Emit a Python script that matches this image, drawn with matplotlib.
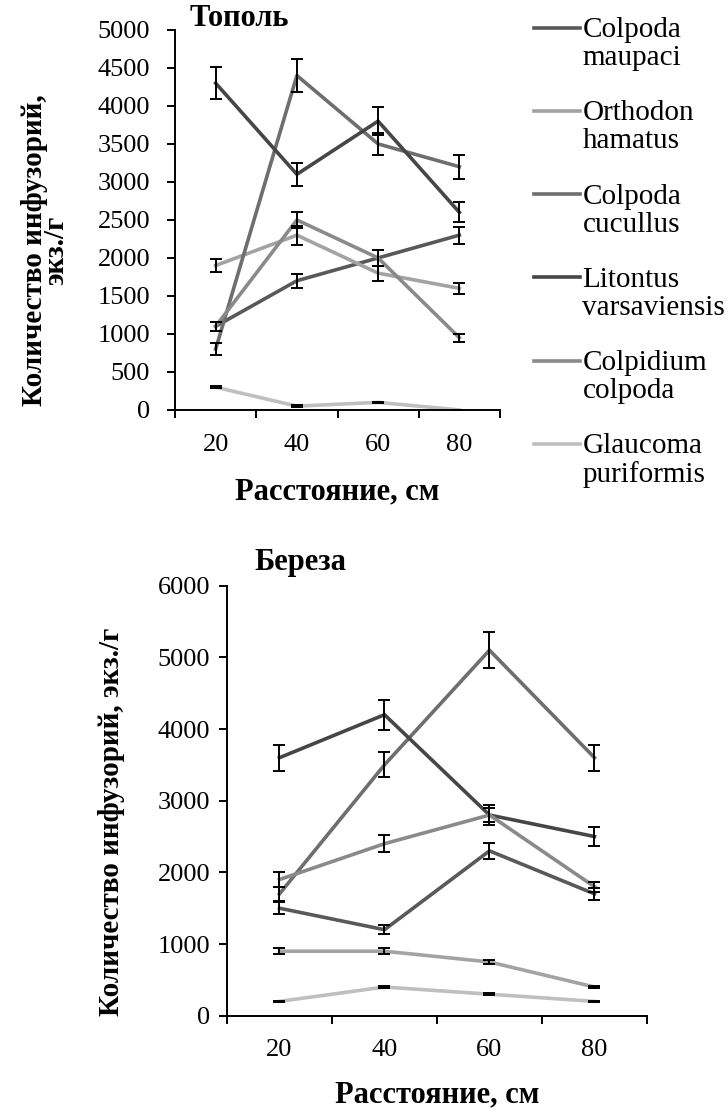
import numpy as np
import matplotlib
matplotlib.use("Agg")
import matplotlib.pyplot as plt
from matplotlib.legend_handler import HandlerLine2D

plt.rcParams['font.family'] = ['Liberation Serif', 'DejaVu Serif']

distances = ["20", "40", "60", "80"]
species = ["Colpoda\nmaupaci", "Orthodon\nhamatus", "Colpoda\ncucullus",
           "Litontus\nvarsaviensis", "Colpidium\ncolpoda", "Glaucoma\npuriformis"]
colors = ["#595959", "#a3a3a3", "#6e6e6e", "#464646", "#8a8a8a", "#bfbfbf"]

# Тополь
topol_maupaci = [1100, 1700, 2000, 2300]
topol_orthodon = [1900, 2300, 1800, 1600]
topol_cucullus = [800, 4400, 3500, 3200]
topol_litontus = [4300, 3100, 3800, 2600]
topol_colpidium = [1100, 2500, 2000, 950]
topol_glaucoma = [300, 50, 100, 0]

topol_maupaci_err = [60, 90, 100, 110]
topol_orthodon_err = [90, 125, 100, 75]
topol_cucullus_err = [80, 220, 150, 160]
topol_litontus_err = [210, 150, 180, 130]
topol_colpidium_err = [60, 110, 110, 50]
topol_glaucoma_err = [15, 10, 10, 5]

# Береза
bereza_maupaci = [1500, 1200, 2300, 1700]
bereza_orthodon = [900, 900, 750, 400]
bereza_cucullus = [1700, 3500, 5100, 3600]
bereza_litontus = [3600, 4200, 2800, 2500]
bereza_colpidium = [1900, 2400, 2800, 1800]
bereza_glaucoma = [200, 400, 300, 200]

bereza_maupaci_err = [80, 60, 110, 80]
bereza_orthodon_err = [40, 40, 30, 20]
bereza_cucullus_err = [100, 175, 250, 180]
bereza_litontus_err = [180, 210, 140, 130]
bereza_colpidium_err = [110, 120, 100, 70]
bereza_glaucoma_err = [10, 10, 10, 10]

topol = [topol_maupaci, topol_orthodon, topol_cucullus,
         topol_litontus, topol_colpidium, topol_glaucoma]
topol_err = [topol_maupaci_err, topol_orthodon_err, topol_cucullus_err,
             topol_litontus_err, topol_colpidium_err, topol_glaucoma_err]
bereza = [bereza_maupaci, bereza_orthodon, bereza_cucullus,
          bereza_litontus, bereza_colpidium, bereza_glaucoma]
bereza_err = [bereza_maupaci_err, bereza_orthodon_err, bereza_cucullus_err,
              bereza_litontus_err, bereza_colpidium_err, bereza_glaucoma_err]


class RaisedLine(HandlerLine2D):
    # legend line sits next to the first line of a two-line label
    def create_artists(self, legend, orig_handle, xdescent, ydescent,
                       width, height, fontsize, trans):
        arts = super().create_artists(legend, orig_handle, xdescent, ydescent,
                                      width, height, fontsize, trans)
        for a in arts:
            a.set_ydata(np.asarray(a.get_ydata()) + 0.55 * fontsize)
        return arts


def draw_panel(ax, series, errors, ymax, ystep, title, ypad, tx, ty):
    x = np.arange(1, len(distances) + 1)
    lines = []
    for vals, err, c, name in zip(series, errors, colors, species):
        ax.errorbar(x, vals, yerr=err, fmt='none', ecolor='black',
                    elinewidth=1.4, capsize=4, capthick=1.4, zorder=3)
        ln, = ax.plot(x, vals, color=c, lw=2.6, label=name, zorder=2)
        lines.append(ln)
    ax.set_xlim(0.5, len(distances) + 0.5)
    ax.set_ylim(0, ymax)
    ax.set_yticks(np.arange(0, ymax + 1, ystep))
    ax.set_xticks(np.arange(0.5, len(distances) + 1, 1.0))
    ax.set_xticklabels([])
    ax.set_xticks(x, minor=True)
    ax.set_xticklabels(distances, minor=True)
    ax.tick_params(axis='x', which='minor', length=0, labelsize=19, pad=17)
    ax.tick_params(axis='x', which='major', length=6, width=1.4, direction='out')
    ax.tick_params(axis='y', length=6, width=1.4, direction='out',
                   labelsize=19, pad=ypad)
    for s in ['top', 'right']:
        ax.spines[s].set_visible(False)
    for s in ['left', 'bottom']:
        ax.spines[s].set_linewidth(1.4)
    ax.text(tx, ty, title, transform=ax.transAxes, fontsize=22,
            fontweight='bold', va='center', ha='left')
    return lines


fig = plt.figure(figsize=(7.28, 11.08), dpi=100)

ax1 = fig.add_axes([0.2404, 0.630, 0.4464, 0.343])
lines = draw_panel(ax1, topol, topol_err, 5000, 500, "Тополь", 12, 0.045, 1.03)
ax1.set_ylabel("Количество инфузорий,\nэкз./г", fontsize=21,
               fontweight='bold', linespacing=0.75)
ax1.yaxis.set_label_coords(-0.325, 0.42)
ax1.set_xlabel("Расстояние, см", fontsize=22, fontweight='bold', labelpad=16)

ax2 = fig.add_axes([0.3118, 0.0833, 0.5769, 0.3881])
draw_panel(ax2, bereza, bereza_err, 6000, 1000, "Береза", 6, 0.065, 1.053)
ax2.set_ylabel("Количество инфузорий, экз./г", fontsize=21,
               fontweight='bold')
ax2.yaxis.set_label_coords(-0.243, 0.45)
ax2.set_xlabel("Расстояние, см", fontsize=22, fontweight='bold', labelpad=14)

leg = fig.legend(handles=lines, labels=species, loc='upper left',
                 bbox_to_anchor=(0.718, 0.995), frameon=False, fontsize=21,
                 handlelength=1.55, handletextpad=0.1, labelspacing=1.0,
                 borderaxespad=0, handler_map={matplotlib.lines.Line2D: RaisedLine()})
for t in leg.get_texts():
    t.set_linespacing(1.1)

fig.savefig("out.png", dpi=100)
